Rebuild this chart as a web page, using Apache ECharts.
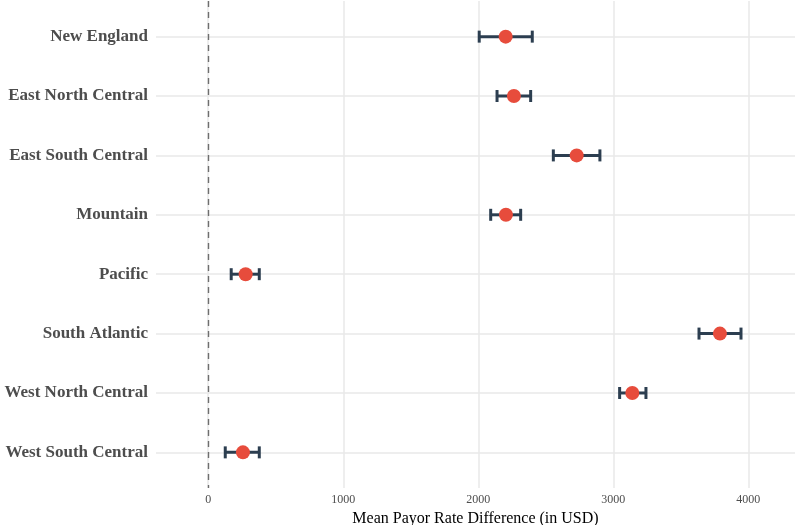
<!DOCTYPE html>
<html>
<head>
<meta charset="utf-8">
<script src="https://cdn.jsdelivr.net/npm/echarts@6/dist/echarts.min.js"></script>
<style>
  html, body { margin: 0; padding: 0; background: #fff; }
  #main { width: 795px; height: 525px; }
</style>
</head>
<body>
<div id="main"></div>
<script>
// regions, top to bottom
const regions = ['New England', 'East North Central', 'East South Central', 'Mountain',
  'Pacific', 'South Atlantic', 'West North Central', 'West South Central'];
const meanDiff = [2203, 2264, 2729, 2205, 277, 3790, 3141, 257];
const lowerCI = [2007, 2139, 2556, 2092, 170, 3635, 3047, 126];
const upperCI = [2400, 2388, 2901, 2314, 378, 3946, 3242, 378];
const xTicks = [0, 1000, 2000, 3000, 4000];
const yTicks = [1, 2, 3, 4, 5, 6, 7, 8];

const serif = '"Liberation Serif", "DejaVu Serif", serif';

var myChart = echarts.init(document.getElementById('main'));

var option = {
  animation: false,
  grid: { left: 156, right: 0, top: 1, bottom: 37, outerBoundsMode: 'none', containLabel: false },
  xAxis: {
    type: 'value',
    min: -387,
    max: 4346,
    name: 'Mean Payor Rate Difference (in USD)',
    nameLocation: 'middle',
    nameGap: 21,
    nameTextStyle: { fontFamily: serif, fontSize: 16, color: '#000' },
    axisLine: { show: false },
    axisTick: { show: false, customValues: xTicks },
    axisLabel: {
      customValues: xTicks,
      formatter: v => String(v),
      fontFamily: serif, fontSize: 12, color: '#4d4d4d', margin: 6
    },
    splitLine: { show: true, lineStyle: { color: '#e8e8e8', width: 1.5 } }
  },
  yAxis: {
    type: 'value',
    inverse: true,
    min: 0.4,
    max: 8.6,
    axisLine: { show: false },
    axisTick: { show: false, customValues: yTicks },
    axisLabel: {
      customValues: yTicks,
      formatter: v => regions[Math.round(v) - 1] || '',
      fontFamily: serif, fontSize: 17, fontWeight: 'bold', color: '#4d4d4d', margin: 8
    },
    splitLine: { show: true, lineStyle: { color: '#e8e8e8', width: 1.5 } }
  },
  series: [
    {
      type: 'line',
      data: [],
      markLine: {
        symbol: 'none',
        silent: true,
        label: { show: false },
        lineStyle: { type: [6, 5], color: '#6e6e6e', width: 1.4 },
        data: [{ xAxis: 0 }]
      }
    },
    {
      type: 'custom',
      data: regions.map((r, i) => [lowerCI[i], upperCI[i], i + 1]),
      renderItem: function (params, api) {
        const lo = api.coord([api.value(0), api.value(2)]);
        const hi = api.coord([api.value(1), api.value(2)]);
        const h = 6;
        const style = { stroke: '#2c3e50', lineWidth: 3, fill: null };
        return {
          type: 'group',
          children: [
            { type: 'line', shape: { x1: lo[0], y1: lo[1], x2: hi[0], y2: hi[1] }, style: style },
            { type: 'line', shape: { x1: lo[0], y1: lo[1] - h, x2: lo[0], y2: lo[1] + h }, style: style },
            { type: 'line', shape: { x1: hi[0], y1: hi[1] - h, x2: hi[0], y2: hi[1] + h }, style: style }
          ]
        };
      },
      z: 3
    },
    {
      type: 'scatter',
      data: meanDiff.map((v, i) => [v, i + 1]),
      symbolSize: 14,
      itemStyle: { color: '#e74c3c', opacity: 1 },
      z: 4
    }
  ]
};

myChart.setOption(option);
</script>
</body>
</html>
